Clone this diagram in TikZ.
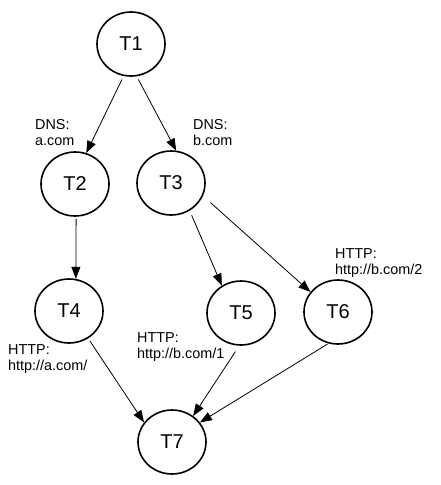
\documentclass[tikz,border=0pt]{standalone}
\usepackage{fontspec}
\setmainfont{Liberation Sans}
\usetikzlibrary{shapes.geometric,arrows.meta}
\begin{document}
\begin{tikzpicture}[x=1pt,y=-1pt,
  task/.style={ellipse,draw,line width=1.6pt,minimum width=68pt,minimum height=64pt,inner sep=0pt,font=\fontsize{20}{24}\selectfont},
  lbl/.style={anchor=north west,align=left,inner sep=0pt,font=\fontsize{14.4}{16}\selectfont},
  edge/.style={line width=0.8pt,-{Triangle[length=12pt,width=9pt]}}]
\useasboundingbox (0,0) rectangle (440,485);
\node[task] (T1) at (131,44) {T1};
\node[task] (T2) at (75,184) {T2};
\node[task] (T3) at (171,183) {T3};
\node[task] (T4) at (69,311) {T4};
\node[task] (T5) at (241,313) {T5};
\node[task] (T6) at (338,312) {T6};
\node[task] (T7) at (172,442) {T7};

\node[lbl] (L1) at (35,119.6) {DNS:\\a.com};
\node[lbl] (L2) at (193,119.6) {DNS:\\b.com};
\node[lbl] (L3) at (335,248.6) {HTTP:\\http://b.com/2};
\node[lbl] (L4) at (137,332.6) {HTTP:\\http://b.com/1};
\node[lbl] (L5) at (8,344.6) {HTTP:\\http://a.com/};

\draw[edge,shorten <=4pt] (T1.-103) -- (T2.70);
\draw[edge,shorten <=3.5pt] (T1.-80) -- (T3.81);
\draw[edge,shorten <=2pt] (T2.-88) -- (T4.78);
\draw[edge,shorten <=5pt] (T3.-56) -- (T5.125);
\draw[edge,shorten <=10pt] (T3.-22.5) -- (T6.144);
\draw[edge,shorten <=3pt] (T4.-55) -- (T7.145);
\draw[edge,shorten <=7pt] (T5.-93) -- (T7.51);
\draw[edge,shorten <=1pt] (T6.-107) -- (T7.35);
\end{tikzpicture}
\end{document}
